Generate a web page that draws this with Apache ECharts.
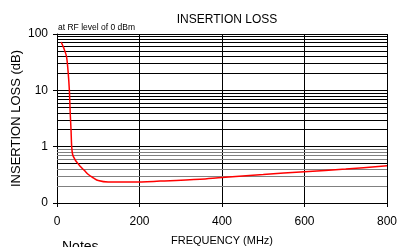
<!DOCTYPE html>
<html>
<head>
<meta charset="utf-8">
<script src="https://cdn.jsdelivr.net/npm/echarts@6/dist/echarts.min.js"></script>
<style>
  html, body { margin: 0; padding: 0; background: #fff; }
  #chart { width: 397px; height: 247px; }
</style>
</head>
<body>
<div id="chart"></div>
<script>
// frequency (MHz) and insertion loss (dB)
const freq = [10, 17, 23, 27, 30, 32, 34, 35.6, 38, 43.6, 49, 56, 66, 76, 88, 100, 124, 185, 250, 347, 400, 500, 600, 700, 800];
const loss = [72, 55, 40, 21, 10, 4, 2, 1, 0.72, 0.59, 0.52, 0.45, 0.38, 0.32, 0.28, 0.25, 0.235, 0.235, 0.245, 0.265, 0.285, 0.32, 0.36, 0.4, 0.46];
const xTicks = [0, 200, 400, 600, 800];
// minor log grid lines (grey in the lowest decade, black above)
const minorGrey = [0.2, 0.3, 0.4, 0.6, 0.7, 0.8, 0.9];
const minorBlack = [0.5, 2, 3, 4, 5, 6, 7, 8, 9, 20, 30, 40, 50, 60, 70, 80, 90];

const font = "Liberation Sans, Arial, sans-serif";
const chart = echarts.init(document.getElementById("chart"));

const option = {
  animation: false,
  title: {
    text: "INSERTION LOSS",
    left: 222,
    textAlign: "center",
    top: 9,
    textStyle: { fontFamily: font, fontSize: 12, fontWeight: "normal", color: "#000" }
  },
  graphic: [
    {
      type: "text", left: 58, top: 23,
      style: { text: "at RF level of 0 dBm", font: "8.5px " + font, fill: "#000" }
    },
    {
      type: "text", left: 62, top: 240,
      style: { text: "Notes", font: "14px " + font, fill: "#000" }
    }
  ],
  grid: { left: 57, right: 10, top: 34, bottom: 44, outerBoundsMode: "none", containLabel: false },
  xAxis: {
    type: "value",
    min: 0, max: 800, interval: 200,
    name: "FREQUENCY (MHz)",
    nameLocation: "middle",
    nameGap: 32,
    nameMoveOverlap: false,
    nameTextStyle: { fontFamily: font, fontSize: 11, color: "#000" },
    axisLine: { lineStyle: { color: "#000", width: 1 } },
    axisTick: { show: true, length: 4, lineStyle: { color: "#000" } },
    axisLabel: { fontFamily: font, fontSize: 12, color: "#000", margin: 13 },
    splitLine: { show: true, lineStyle: { color: "#000", width: 1 } }
  },
  yAxis: {
    type: "log",
    logBase: 10,
    min: 0.1, max: 100,
    name: "INSERTION LOSS (dB)",
    nameLocation: "middle",
    nameGap: 34,
    nameMoveOverlap: false,
    nameTextStyle: { fontFamily: font, fontSize: 13, color: "#000" },
    axisLine: { show: true, lineStyle: { color: "#000", width: 1 } },
    axisTick: { show: true, length: 4, lineStyle: { color: "#000" } },
    axisLabel: {
      fontFamily: font, fontSize: 12, color: "#000", margin: 9,
      formatter: v => (v < 0.5 ? "0" : String(Math.round(v)))
    },
    splitLine: { show: true, lineStyle: { color: "#000", width: 1 } }
  },
  series: [
    {
      type: "line",
      data: freq.map((f, i) => [f, loss[i]]),
      smooth: 0.3,
      symbol: "none",
      lineStyle: { color: "#ff0000", width: 1.5 },
      z: 5,
      markLine: {
        silent: true,
        symbol: "none",
        label: { show: false },
        animation: false,
        data: [
          ...minorGrey.map(v => ({ yAxis: v, lineStyle: { color: "#808080", width: 1, type: "solid" } })),
          ...minorBlack.map(v => ({ yAxis: v, lineStyle: { color: "#000", width: 1, type: "solid" } })),
          { xAxis: 800, lineStyle: { color: "#000", width: 1, type: "solid" } }
        ]
      }
    }
  ]
};
chart.setOption(option);
</script>
</body>
</html>
